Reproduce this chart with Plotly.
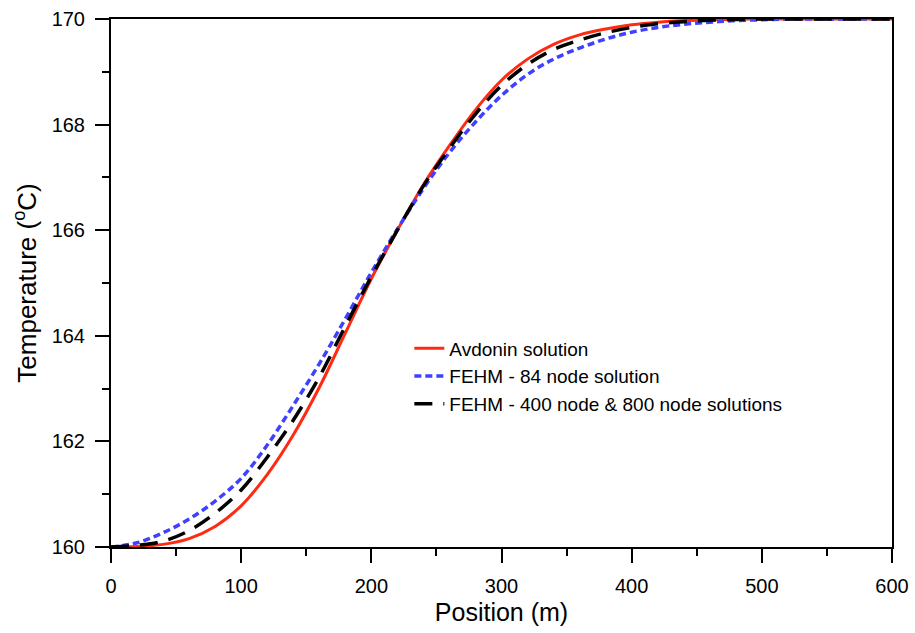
import plotly.graph_objects as go

position = [0, 20, 40, 60, 80, 100, 120, 140, 160, 180, 200, 220, 240, 260, 280,
            300, 320, 340, 360, 380, 400, 420, 440, 460, 480, 500, 520, 540, 560, 580, 600]

avdonin = [160.00, 160.01, 160.05, 160.16, 160.39, 160.78, 161.37, 162.12, 163.02, 164.05,
           165.08, 166.00, 166.86, 167.60, 168.28, 168.84, 169.24, 169.52, 169.70, 169.81,
           169.89, 169.94, 169.97, 169.985, 169.995, 170.0, 170.0, 170.0, 170.0, 170.0, 170.0]

fehm84 = [160.00, 160.08, 160.27, 160.53, 160.87, 161.30, 161.93, 162.68, 163.47, 164.32,
          165.20, 166.02, 166.79, 167.47, 168.05, 168.55, 168.95, 169.24, 169.45, 169.62,
          169.75, 169.84, 169.90, 169.94, 169.97, 169.985, 170.0, 170.0, 170.0, 170.0, 170.0]

fehm400 = [160.00, 160.03, 160.11, 160.31, 160.64, 161.08, 161.70, 162.40, 163.22, 164.18,
           165.12, 166.00, 166.84, 167.55, 168.20, 168.74, 169.14, 169.42, 169.60, 169.74,
           169.84, 169.91, 169.95, 169.975, 169.99, 170.0, 170.0, 170.0, 170.0, 170.0, 170.0]

x_ticks = [0, 100, 200, 300, 400, 500, 600]
y_ticks = [160, 162, 164, 166, 168, 170]

FONT = "Liberation Sans, Arial, sans-serif"

fig = go.Figure()
fig.add_trace(go.Scatter(x=position, y=avdonin, mode="lines", name="Avdonin solution",
                         line=dict(color="#ff2a12", width=3, shape="spline", smoothing=1.0)))
fig.add_trace(go.Scatter(x=position, y=fehm84, mode="lines", name="FEHM - 84 node solution",
                         line=dict(color="#4040ff", width=3.5, dash="7px,4px", shape="spline", smoothing=1.0)))
fig.add_trace(go.Scatter(x=position, y=fehm400, mode="lines", name="FEHM - 400 node & 800 node solutions",
                         line=dict(color="black", width=3.5, dash="18px,11px", shape="spline", smoothing=1.0)))

axis_common = dict(
    showgrid=False, zeroline=False, showline=True, linecolor="black", linewidth=2,
    mirror=True, ticks="outside", ticklen=14, tickwidth=2, tickcolor="black",
    ticklabelstandoff=6, automargin=False,
    tickfont=dict(family=FONT, size=20, color="black"),
)

fig.update_xaxes(range=[0, 600], tickvals=x_ticks,
                 minor=dict(dtick=50, ticks="outside", ticklen=7, tickwidth=2, tickcolor="black", showgrid=False),
                 title=dict(text="Position (m)", font=dict(family=FONT, size=25, color="black"), standoff=7),
                 **axis_common)
fig.update_yaxes(range=[160, 170], tickvals=y_ticks,
                 minor=dict(dtick=1, ticks="outside", ticklen=7, tickwidth=2, tickcolor="black", showgrid=False),
                 title=dict(text="Temperature (<sup>o</sup>C)", font=dict(family=FONT, size=26, color="black"), standoff=8),
                 **axis_common)

fig.update_layout(
    width=915, height=633,
    margin=dict(l=111, r=23, t=19, b=86),
    plot_bgcolor="white", paper_bgcolor="white",
    font=dict(family=FONT, color="black"),
    legend=dict(x=0.382, y=0.412, xanchor="left", yanchor="top",
                bgcolor="rgba(0,0,0,0)", borderwidth=0,
                font=dict(family=FONT, size=19, color="black"),
                tracegroupgap=0),
    showlegend=True,
)

fig.write_html("out.html")
